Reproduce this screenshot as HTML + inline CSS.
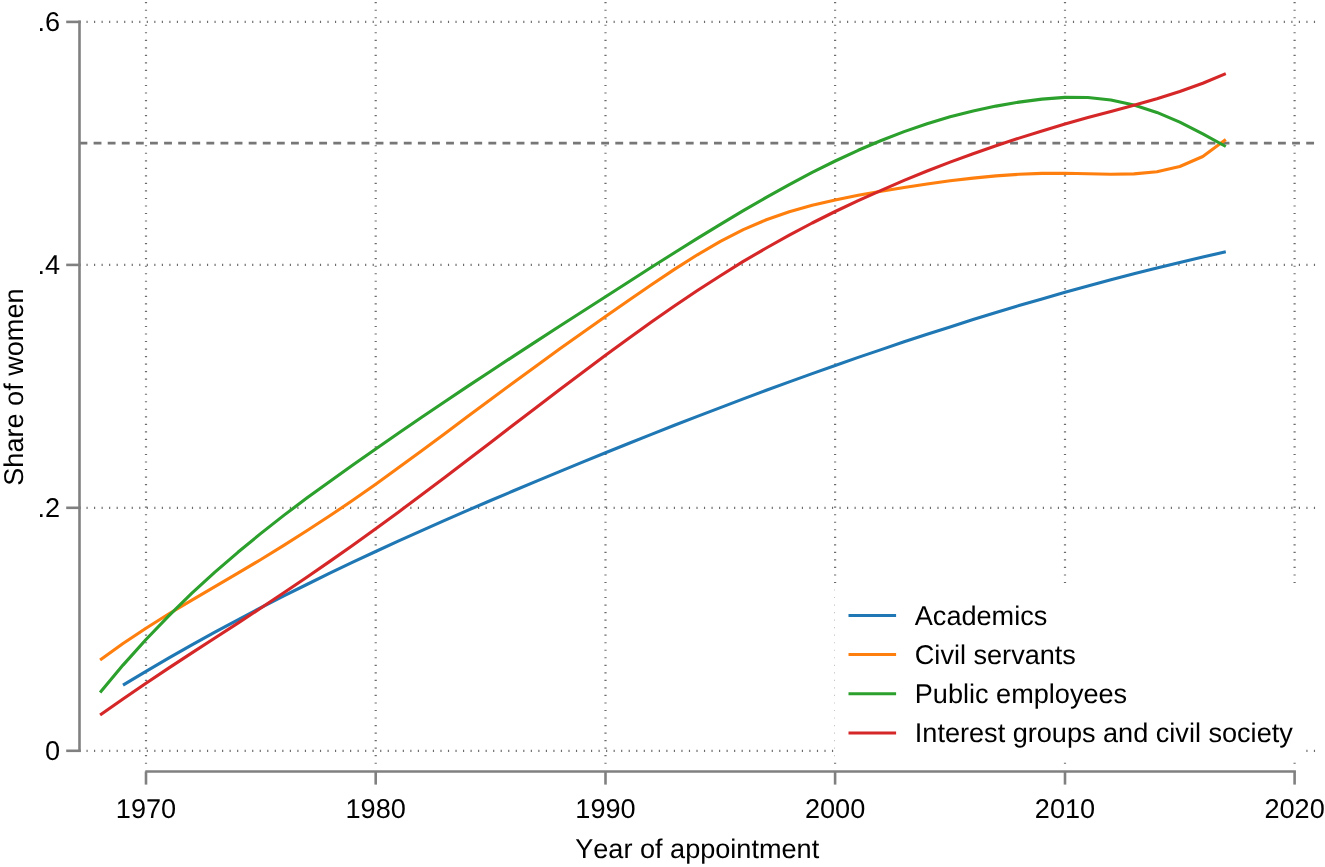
<!DOCTYPE html>
<html lang="en"><head><meta charset="utf-8"><title>Share of women by year of appointment</title>
<style>
html,body{margin:0;padding:0;background:#fff;}
body{width:1325px;height:867px;overflow:hidden;}
svg{display:block;will-change:transform;}
text{font-family:"Liberation Sans",Arial,Helvetica,sans-serif;font-size:27.1px;fill:#000;font-kerning:none;text-rendering:geometricPrecision;}
.grid line{stroke:#6c6c6c;stroke-width:2.2;stroke-dasharray:1.15 6.38;}
.ax{stroke:#808080;stroke-width:2.6;fill:none;}
.ln{fill:none;stroke-width:3.1;stroke-linejoin:round;stroke-linecap:butt;}
</style></head><body>
<svg width="1325" height="867" viewBox="0 0 1325 867">
<rect x="0" y="0" width="1325" height="867" fill="#ffffff"/>
<g class="grid">
<line x1="146.0" y1="2.1" x2="146.0" y2="766"/>
<line x1="375.7" y1="2.1" x2="375.7" y2="766"/>
<line x1="605.5" y1="2.1" x2="605.5" y2="766"/>
<line x1="835.1" y1="2.1" x2="835.1" y2="766"/>
<line x1="1065.0" y1="2.1" x2="1065.0" y2="766"/>
<line x1="1294.6" y1="2.1" x2="1294.6" y2="766"/>
<line x1="86.5" y1="21.9" x2="1316" y2="21.9"/>
<line x1="86.5" y1="264.9" x2="1316" y2="264.9"/>
<line x1="86.5" y1="507.8" x2="1316" y2="507.8"/>
<line x1="86.5" y1="750.8" x2="1316" y2="750.8"/>
</g>
<line x1="79.5" y1="143.2" x2="1314.1" y2="143.2" stroke="#777777" stroke-width="2.8" stroke-dasharray="7.85 6.25"/>
<polyline class="ln" stroke="#1f77b4" points="123.0,685.2 146.0,671.4 169.0,657.9 191.9,644.9 214.9,632.2 237.9,619.8 260.9,607.7 283.8,595.9 306.8,584.5 329.8,573.2 352.8,562.2 375.7,551.5 398.7,540.9 421.7,530.6 444.7,520.4 467.6,510.4 490.6,500.5 513.6,490.8 536.6,481.1 559.5,471.6 582.5,462.1 605.5,452.8 628.5,443.5 651.4,434.4 674.4,425.3 697.4,416.4 720.4,407.6 743.3,398.9 766.3,390.3 789.3,381.9 812.2,373.6 835.2,365.5 858.2,357.4 881.2,349.6 904.1,341.8 927.1,334.3 950.1,326.9 973.1,319.6 996.0,312.5 1019.0,305.6 1042.0,298.9 1065.0,292.3 1087.9,286.0 1110.9,279.8 1133.9,273.8 1156.9,268.0 1179.8,262.4 1202.8,257.0 1225.8,251.8"/>
<polyline class="ln" stroke="#ff7f0e" points="100.1,660.1 123.0,643.5 146.0,628.2 169.0,613.8 191.9,600.1 214.9,586.7 237.9,573.2 260.9,559.5 283.8,545.4 306.8,530.8 329.8,515.8 352.8,500.3 375.7,484.2 398.7,467.6 421.7,450.7 444.7,433.7 467.6,416.6 490.6,399.5 513.6,382.5 536.6,365.7 559.5,349.1 582.5,332.7 605.5,316.6 628.5,300.6 651.4,284.8 674.4,269.4 697.4,254.8 720.4,241.4 743.3,229.6 766.3,219.8 789.3,211.7 812.2,205.2 835.2,199.9 858.2,195.3 881.2,191.3 904.1,187.5 927.1,184.0 950.1,180.8 973.1,178.1 996.0,175.9 1019.0,174.3 1042.0,173.4 1065.0,173.2 1087.9,173.8 1110.9,174.3 1133.9,173.9 1156.9,171.7 1179.8,166.5 1202.8,156.5 1225.8,139.6"/>
<polyline class="ln" stroke="#2ca02c" points="100.1,692.5 123.0,665.1 146.0,639.5 169.0,615.6 191.9,593.2 214.9,572.2 237.9,552.3 260.9,533.4 283.8,515.4 306.8,498.1 329.8,481.4 352.8,465.0 375.7,448.9 398.7,433.0 421.7,417.3 444.7,401.8 467.6,386.4 490.6,371.2 513.6,356.1 536.6,341.1 559.5,326.3 582.5,311.5 605.5,296.7 628.5,282.0 651.4,267.3 674.4,252.8 697.4,238.4 720.4,224.4 743.3,210.6 766.3,197.4 789.3,184.6 812.2,172.4 835.2,161.0 858.2,150.3 881.2,140.5 904.1,131.6 927.1,123.7 950.1,116.8 973.1,111.0 996.0,106.1 1019.0,102.1 1042.0,99.1 1065.0,97.4 1087.9,97.5 1110.9,100.0 1133.9,105.0 1156.9,112.4 1179.8,122.1 1202.8,133.9 1225.8,146.5"/>
<polyline class="ln" stroke="#d62728" points="100.1,715.1 123.0,698.9 146.0,683.2 169.0,667.9 191.9,652.9 214.9,638.0 237.9,623.1 260.9,608.0 283.8,592.8 306.8,577.2 329.8,561.4 352.8,545.2 375.7,528.7 398.7,511.9 421.7,494.8 444.7,477.4 467.6,459.9 490.6,442.4 513.6,424.7 536.6,407.2 559.5,389.7 582.5,372.4 605.5,355.3 628.5,338.5 651.4,322.0 674.4,306.0 697.4,290.5 720.4,275.7 743.3,261.4 766.3,248.0 789.3,235.2 812.2,223.0 835.2,211.5 858.2,200.6 881.2,190.3 904.1,180.4 927.1,171.0 950.1,162.1 973.1,153.7 996.0,145.7 1019.0,138.1 1042.0,130.9 1065.0,124.0 1087.9,117.6 1110.9,111.4 1133.9,105.2 1156.9,98.7 1179.8,91.5 1202.8,83.2 1225.8,73.6"/>
<rect x="834.4" y="586.5" width="469.6" height="175" fill="#ffffff"/>
<line x1="848.5" y1="615.4" x2="896.1" y2="615.4" stroke="#1f77b4" stroke-width="3"/>
<text x="914.8" y="625.2">Academics</text>
<line x1="848.5" y1="654.6" x2="896.1" y2="654.6" stroke="#ff7f0e" stroke-width="3"/>
<text x="914.8" y="664.2">Civil servants</text>
<line x1="848.5" y1="693.8" x2="896.1" y2="693.8" stroke="#2ca02c" stroke-width="3"/>
<text x="914.8" y="703.0">Public employees</text>
<line x1="848.5" y1="733.0" x2="896.1" y2="733.0" stroke="#d62728" stroke-width="3"/>
<text x="914.8" y="742.0">Interest groups and civil society</text>
<path class="ax" d="M79.5 20.6V752.1"/>
<path class="ax" d="M66.2 21.9H80.8"/>
<path class="ax" d="M66.2 264.9H80.8"/>
<path class="ax" d="M66.2 507.8H80.8"/>
<path class="ax" d="M66.2 750.8H80.8"/>
<path class="ax" d="M145.3 771.5H1295.9"/>
<path class="ax" d="M146.0 771.5V784.6"/>
<path class="ax" d="M375.7 771.5V784.6"/>
<path class="ax" d="M605.5 771.5V784.6"/>
<path class="ax" d="M835.1 771.5V784.6"/>
<path class="ax" d="M1065.0 771.5V784.6"/>
<path class="ax" d="M1294.6 771.5V784.6"/>
<text x="146.0" y="817.6" text-anchor="middle">1970</text>
<text x="375.7" y="817.6" text-anchor="middle">1980</text>
<text x="605.5" y="817.6" text-anchor="middle">1990</text>
<text x="835.1" y="817.6" text-anchor="middle">2000</text>
<text x="1065.0" y="817.6" text-anchor="middle">2010</text>
<text x="1294.6" y="817.6" text-anchor="middle">2020</text>
<text x="60" y="31.4" text-anchor="end">.6</text>
<text x="60" y="274.4" text-anchor="end">.4</text>
<text x="60" y="517.3" text-anchor="end">.2</text>
<text x="60" y="760.3" text-anchor="end">0</text>
<text x="697.2" y="858.3" text-anchor="middle">Year of appointment</text>
<text transform="translate(23.3 387.1) rotate(-90)" text-anchor="middle">Share of women</text>
</svg></body></html>
